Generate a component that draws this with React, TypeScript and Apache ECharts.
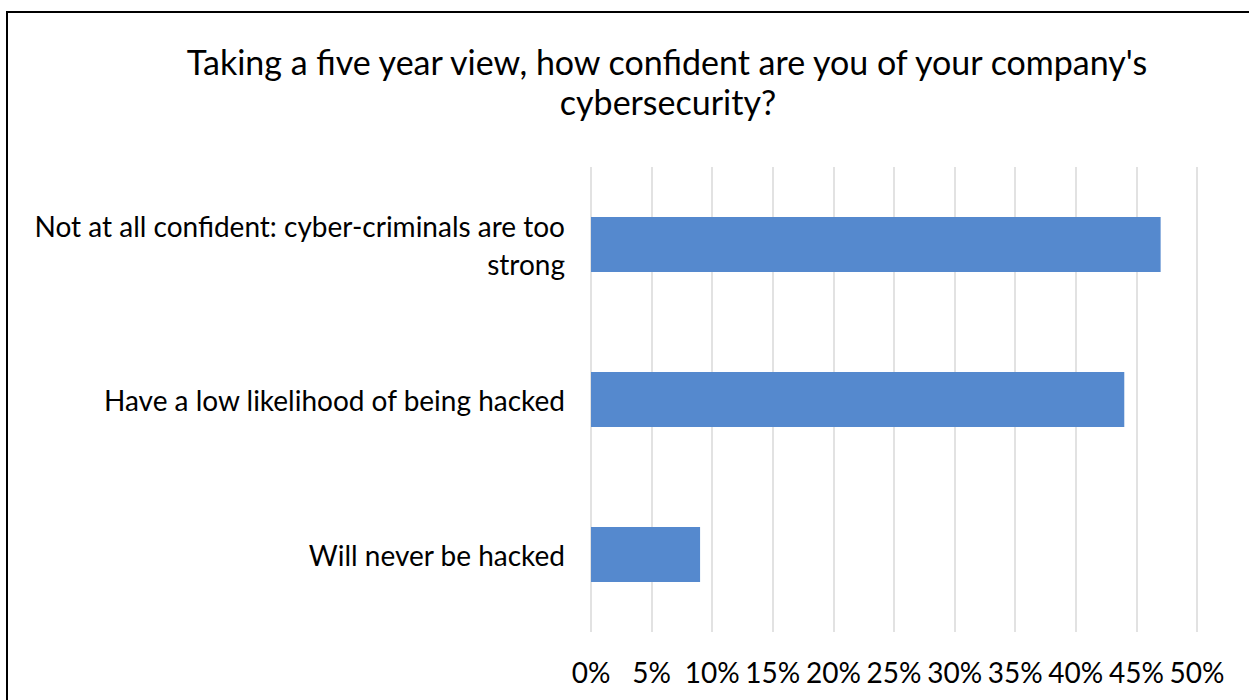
import React, { useEffect, useRef } from "react";
import * as echarts from "echarts";

const titleLines = [
  "Taking a five year view, how confident are you of your company's",
  "cybersecurity?",
];
const categories = [
  "Not at all confident: cyber-criminals are too\nstrong",
  "Have a low likelihood of being hacked",
  "Will never be hacked",
];
const values = [47, 44, 9];
const axisMin = 0;
const axisMax = 50;
const axisStep = 5;

const FONT = "Lato, 'Open Sans', sans-serif";

export default function App() {
  const ref = useRef<HTMLDivElement>(null);
  useEffect(() => {
    if (!ref.current) return;
    const chart = echarts.init(ref.current, undefined, { renderer: "svg" });
    chart.setOption({
      animation: false,
      backgroundColor: "#ffffff",
      textStyle: { fontFamily: FONT },
      graphic: [
        {
          type: "rect",
          shape: { x: 7, y: 12, width: 1300, height: 800 },
          style: { fill: "none", stroke: "#000000", lineWidth: 2 },
          silent: true,
        },
        {
          type: "text",
          x: 667,
          y: 61,
          style: {
            text: titleLines[0],
            fontSize: 34,
            fontFamily: FONT,
            fill: "#000000",
            align: "center",
            verticalAlign: "middle",
          },
        },
        {
          type: "text",
          x: 668,
          y: 101,
          style: {
            text: titleLines[1],
            fontSize: 34,
            fontFamily: FONT,
            fill: "#000000",
            align: "center",
            verticalAlign: "middle",
          },
        },
      ],
      grid: { left: 591, right: 52, top: 167, bottom: 68, containLabel: false },
      xAxis: {
        type: "value",
        min: axisMin,
        max: axisMax,
        interval: axisStep,
        axisLine: { show: false },
        axisTick: { show: false },
        splitLine: { show: true, lineStyle: { color: "#d9d9d9", width: 1.5 } },
        axisLabel: {
          formatter: "{value}%",
          fontSize: 28,
          color: "#000000",
          fontFamily: FONT,
          margin: 26,
        },
      },
      yAxis: {
        type: "category",
        data: categories,
        inverse: true,
        axisLine: { show: false },
        axisTick: { show: false },
        splitLine: { show: false },
        axisLabel: {
          fontSize: 28,
          color: "#000000",
          fontFamily: FONT,
          align: "right",
          margin: 26,
          lineHeight: 38,
        },
      },
      series: [
        {
          type: "bar",
          data: values,
          barWidth: 55,
          itemStyle: { color: "#5589CE" },
        },
      ],
    });
    return () => chart.dispose();
  }, []);
  return (
    <div
      ref={ref}
      style={{ position: "fixed", left: 0, top: 0, width: 1249, height: 700, background: "#fff" }}
    />
  );
}
